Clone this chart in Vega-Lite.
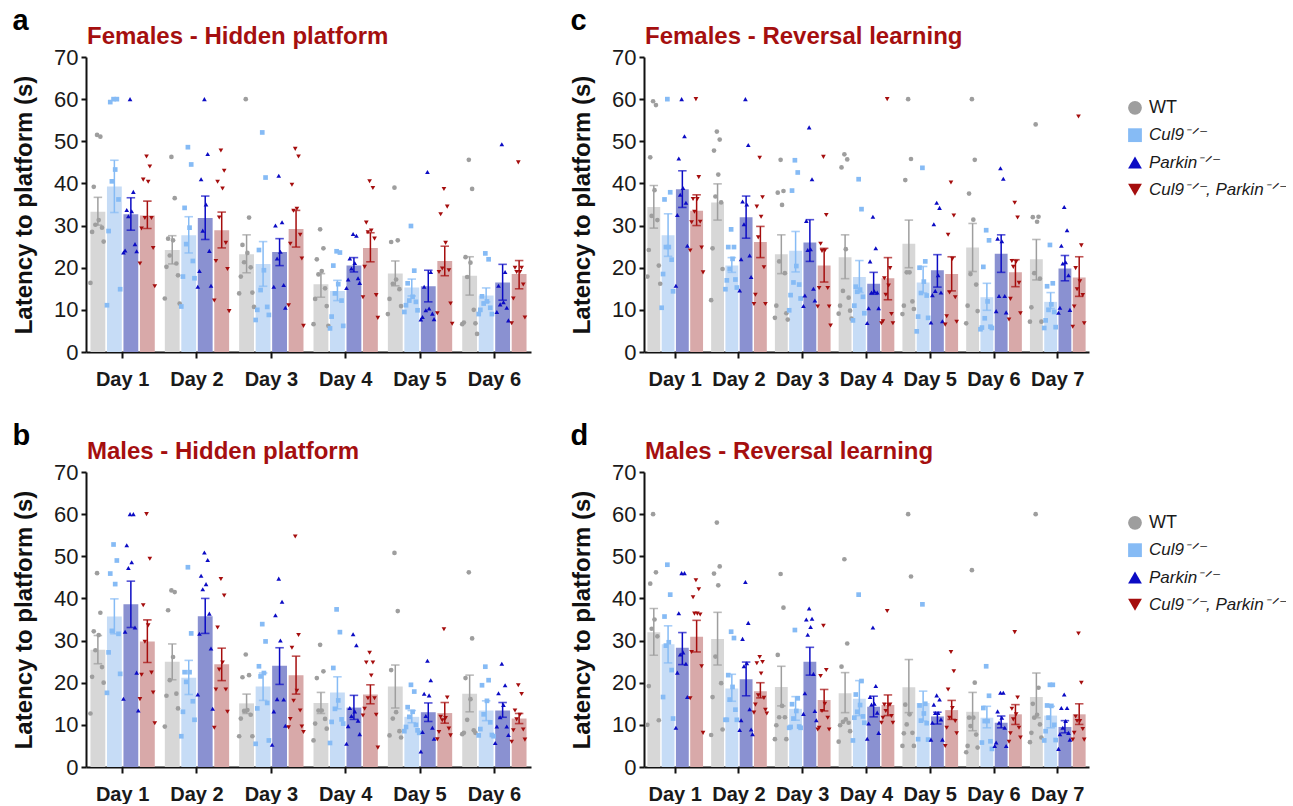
{
"$schema":"https://vega.github.io/schema/vega-lite/v6.json",
"padding":{"left":12,"top":7,"right":0,"bottom":0},
"config":{"font":"Liberation Sans","view":{"stroke":null},
"axis":{"domainColor":"#111111","domainWidth":2,"tickColor":"#111111","tickWidth":2,"grid":false,"labelColor":"#1a1a1a","titleColor":"#111111"},
"axisY":{"titleFontSize":24,"titleFontWeight":"bold","titlePadding":17,"labelFontSize":22,"tickSize":5,"labelPadding":3,"tickCount":8},
"axisX":{"labelAngle":0,"labelFontSize":20,"labelFontWeight":"bold","tickSize":6,"labelPadding":11}},
"datasets":{
"lg":[{"g":"W","t":"WT"},{"g":"C","t":"Cul9⁻ᐟ⁻"},{"g":"P","t":"Parkin⁻ᐟ⁻"},{"g":"D","t":"Cul9⁻ᐟ⁻, Parkin⁻ᐟ⁻"}],
"ba":[{"d":1,"g":"W","y":33.3,"lo":30.1,"hi":36.7},{"d":1,"g":"C","y":39.3,"lo":33.1,"hi":45.5},{"d":1,"g":"P","y":32.7,"lo":28.9,"hi":36.6},{"d":1,"g":"D","y":32.4,"lo":29.3,"hi":35.8},
{"d":2,"g":"W","y":24.2,"lo":20.9,"hi":27.6},{"d":2,"g":"C","y":27.7,"lo":23.5,"hi":32.1},{"d":2,"g":"P","y":31.8,"lo":26.7,"hi":37.0},{"d":2,"g":"D","y":28.9,"lo":24.7,"hi":33.2},
{"d":3,"g":"W","y":23.2,"lo":18.8,"hi":27.8},{"d":3,"g":"C","y":20.9,"lo":15.6,"hi":26.2},{"d":3,"g":"P","y":23.7,"lo":20.5,"hi":26.9},{"d":3,"g":"D","y":29.2,"lo":24.9,"hi":33.6},
{"d":4,"g":"W","y":16.1,"lo":13.0,"hi":18.6},{"d":4,"g":"C","y":14.5,"lo":12.2,"hi":17.0},{"d":4,"g":"P","y":20.5,"lo":19.0,"hi":22.4},{"d":4,"g":"D","y":24.7,"lo":21.4,"hi":28.3},
{"d":5,"g":"W","y":18.6,"lo":15.7,"hi":21.6},{"d":5,"g":"C","y":15.3,"lo":13.3,"hi":17.3},{"d":5,"g":"P","y":15.6,"lo":11.9,"hi":19.4},{"d":5,"g":"D","y":21.6,"lo":18.1,"hi":25.1},
{"d":6,"g":"W","y":18.1,"lo":13.5,"hi":22.6},{"d":6,"g":"C","y":13.4,"lo":11.9,"hi":15.2},{"d":6,"g":"P","y":16.5,"lo":12.3,"hi":20.8},{"d":6,"g":"D","y":18.5,"lo":15.0,"hi":21.7}],
"bb":[{"d":1,"g":"W","y":27.8,"lo":24.5,"hi":31.2},{"d":1,"g":"C","y":35.7,"lo":31.6,"hi":39.9},{"d":1,"g":"P","y":38.6,"lo":33.1,"hi":44.1},{"d":1,"g":"D","y":29.8,"lo":24.8,"hi":34.9},
{"d":2,"g":"W","y":25.0,"lo":20.7,"hi":29.2},{"d":2,"g":"C","y":21.2,"lo":17.2,"hi":25.3},{"d":2,"g":"P","y":35.8,"lo":31.7,"hi":40.0},{"d":2,"g":"D","y":24.4,"lo":20.5,"hi":28.2},
{"d":3,"g":"W","y":15.1,"lo":12.7,"hi":17.3},{"d":3,"g":"C","y":19.1,"lo":15.8,"hi":22.3},{"d":3,"g":"P","y":24.0,"lo":19.6,"hi":28.3},{"d":3,"g":"D","y":21.8,"lo":17.3,"hi":26.3},
{"d":4,"g":"W","y":15.2,"lo":12.7,"hi":17.7},{"d":4,"g":"C","y":17.7,"lo":13.8,"hi":21.4},{"d":4,"g":"P","y":14.1,"lo":11.3,"hi":17.0},{"d":4,"g":"D","y":17.2,"lo":15.0,"hi":19.5},
{"d":5,"g":"W","y":19.1,"lo":14.0,"hi":24.2},{"d":5,"g":"C","y":11.9,"lo":10.5,"hi":13.4},{"d":5,"g":"P","y":13.0,"lo":10.8,"hi":15.2},{"d":5,"g":"D","y":12.8,"lo":10.4,"hi":15.3},
{"d":6,"g":"W","y":17.4,"lo":13.1,"hi":21.8},{"d":6,"g":"C","y":13.4,"lo":11.0,"hi":15.7},{"d":6,"g":"P","y":13.4,"lo":11.8,"hi":15.3},{"d":6,"g":"D","y":11.5,"lo":10.3,"hi":12.7}],
"bc":[{"d":1,"g":"W","y":34.4,"lo":29.4,"hi":39.5},{"d":1,"g":"C","y":27.7,"lo":22.7,"hi":32.8},{"d":1,"g":"P","y":38.6,"lo":34.3,"hi":43.0},{"d":1,"g":"D","y":33.5,"lo":30.0,"hi":37.3},
{"d":2,"g":"W","y":35.5,"lo":31.3,"hi":39.9},{"d":2,"g":"C","y":20.5,"lo":18.9,"hi":22.4},{"d":2,"g":"P","y":32.0,"lo":27.0,"hi":37.0},{"d":2,"g":"D","y":26.1,"lo":22.4,"hi":29.8},
{"d":3,"g":"W","y":23.2,"lo":18.6,"hi":27.8},{"d":3,"g":"C","y":24.0,"lo":19.0,"hi":28.6},{"d":3,"g":"P","y":26.0,"lo":21.5,"hi":31.4},{"d":3,"g":"D","y":20.5,"lo":16.6,"hi":24.6},
{"d":4,"g":"W","y":22.5,"lo":17.4,"hi":27.8},{"d":4,"g":"C","y":17.8,"lo":14.1,"hi":21.7},{"d":4,"g":"P","y":16.2,"lo":13.7,"hi":18.9},{"d":4,"g":"D","y":17.5,"lo":12.4,"hi":22.4},
{"d":5,"g":"W","y":25.7,"lo":20.0,"hi":31.3},{"d":5,"g":"C","y":16.5,"lo":14.0,"hi":20.3},{"d":5,"g":"P","y":19.4,"lo":15.4,"hi":23.1},{"d":5,"g":"D","y":18.5,"lo":14.5,"hi":22.6},
{"d":6,"g":"W","y":24.8,"lo":19.1,"hi":30.5},{"d":6,"g":"C","y":13.0,"lo":9.9,"hi":16.3},{"d":6,"g":"P","y":23.3,"lo":18.9,"hi":27.8},{"d":6,"g":"D","y":18.9,"lo":15.5,"hi":21.9},
{"d":7,"g":"W","y":22.0,"lo":17.1,"hi":26.7},{"d":7,"g":"C","y":11.9,"lo":10.3,"hi":14.1},{"d":7,"g":"P","y":19.8,"lo":16.9,"hi":22.9},{"d":7,"g":"D","y":17.7,"lo":13.2,"hi":22.6}],
"bd":[{"d":1,"g":"W","y":32.0,"lo":26.5,"hi":37.6},{"d":1,"g":"C","y":29.1,"lo":24.7,"hi":33.5},{"d":1,"g":"P","y":28.3,"lo":24.3,"hi":31.9},{"d":1,"g":"D","y":30.9,"lo":27.3,"hi":34.8},
{"d":2,"g":"W","y":30.4,"lo":24.2,"hi":36.7},{"d":2,"g":"C","y":18.6,"lo":15.6,"hi":22.0},{"d":2,"g":"P","y":20.8,"lo":16.9,"hi":24.9},{"d":2,"g":"D","y":18.0,"lo":16.4,"hi":20.0},
{"d":3,"g":"W","y":19.0,"lo":14.5,"hi":23.9},{"d":3,"g":"C","y":13.8,"lo":11.1,"hi":16.7},{"d":3,"g":"P","y":25.0,"lo":21.8,"hi":28.4},{"d":3,"g":"D","y":15.9,"lo":13.3,"hi":18.4},
{"d":4,"g":"W","y":17.5,"lo":12.9,"hi":22.4},{"d":4,"g":"C","y":16.2,"lo":12.2,"hi":20.5},{"d":4,"g":"P","y":14.3,"lo":11.9,"hi":16.8},{"d":4,"g":"D","y":14.7,"lo":12.2,"hi":17.1},
{"d":5,"g":"W","y":18.9,"lo":12.9,"hi":25.5},{"d":5,"g":"C","y":15.2,"lo":10.9,"hi":18.0},{"d":5,"g":"P","y":12.0,"lo":10.2,"hi":13.0},{"d":5,"g":"D","y":13.5,"lo":11.3,"hi":15.8},
{"d":6,"g":"W","y":13.1,"lo":8.6,"hi":17.7},{"d":6,"g":"C","y":11.7,"lo":9.3,"hi":14.4},{"d":6,"g":"P","y":10.5,"lo":9.3,"hi":12.1},{"d":6,"g":"D","y":12.5,"lo":10.1,"hi":14.8},
{"d":7,"g":"W","y":16.6,"lo":11.7,"hi":22.3},{"d":7,"g":"C","y":12.2,"lo":9.3,"hi":14.4},{"d":7,"g":"P","y":9.5,"lo":8.1,"hi":11.0},{"d":7,"g":"D","y":12.5,"lo":10.1,"hi":15.0}],
"pa":[
{"d":1,"g":"W","m":"W5","v":51.5},{"d":1,"g":"W","m":"W7","v":51.1},{"d":1,"g":"W","m":"W3","v":39.2},{"d":1,"g":"W","m":"W6","v":31.3},{"d":1,"g":"W","m":"W4","v":30.2},{"d":1,"g":"W","m":"W8","v":29.5},{"d":1,"g":"W","m":"W2","v":28.5},{"d":1,"g":"W","m":"W9","v":26.2},{"d":1,"g":"W","m":"W1","v":16.4},
{"d":1,"g":"C","m":"C5","v":60},{"d":1,"g":"C","m":"C7","v":60},{"d":1,"g":"C","m":"C3","v":59.3},{"d":1,"g":"C","m":"C6","v":43.3},{"d":1,"g":"C","m":"C4","v":40.5},{"d":1,"g":"C","m":"C8","v":36.2},{"d":1,"g":"C","m":"C2","v":28.7},{"d":1,"g":"C","m":"C9","v":14.9},{"d":1,"g":"C","m":"C1","v":11.1},
{"d":1,"g":"P","m":"P5","v":60},{"d":1,"g":"P","m":"P7","v":38},{"d":1,"g":"P","m":"P3","v":33.7},{"d":1,"g":"P","m":"P6","v":33.4},{"d":1,"g":"P","m":"P4","v":32.2},{"d":1,"g":"P","m":"P8","v":25.6},{"d":1,"g":"P","m":"P2","v":24.1},{"d":1,"g":"P","m":"P9","v":23.9},{"d":1,"g":"P","m":"P1","v":23.6},
{"d":1,"g":"D","m":"D5","v":46.4},{"d":1,"g":"D","m":"D7","v":44},{"d":1,"g":"D","m":"D3","v":40.9},{"d":1,"g":"D","m":"D6","v":40.4},{"d":1,"g":"D","m":"D4","v":31.8},{"d":1,"g":"D","m":"D8","v":31.8},{"d":1,"g":"D","m":"D2","v":29.3},{"d":1,"g":"D","m":"D9","v":24.7},{"d":1,"g":"D","m":"D1","v":21},{"d":1,"g":"D","m":"D10","v":15.6},
{"d":2,"g":"W","m":"W5","v":46.3},{"d":2,"g":"W","m":"W7","v":36.5},{"d":2,"g":"W","m":"W3","v":26.9},{"d":2,"g":"W","m":"W6","v":26.5},{"d":2,"g":"W","m":"W4","v":22.9},{"d":2,"g":"W","m":"W8","v":21},{"d":2,"g":"W","m":"W2","v":20.2},{"d":2,"g":"W","m":"W9","v":18.2},{"d":2,"g":"W","m":"W1","v":12.7},{"d":2,"g":"W","m":"W10","v":11.5},
{"d":2,"g":"C","m":"C5","v":48.6},{"d":2,"g":"C","m":"C7","v":44.5},{"d":2,"g":"C","m":"C3","v":34.2},{"d":2,"g":"C","m":"C6","v":29.5},{"d":2,"g":"C","m":"C4","v":25.6},{"d":2,"g":"C","m":"C8","v":21.6},{"d":2,"g":"C","m":"C2","v":17.9},{"d":2,"g":"C","m":"C9","v":17.5},{"d":2,"g":"C","m":"C1","v":10.8},
{"d":2,"g":"P","m":"P5","v":60},{"d":2,"g":"P","m":"P7","v":47},{"d":2,"g":"P","m":"P3","v":41},{"d":2,"g":"P","m":"P6","v":35},{"d":2,"g":"P","m":"P4","v":28.8},{"d":2,"g":"P","m":"P8","v":24},{"d":2,"g":"P","m":"P2","v":19.2},{"d":2,"g":"P","m":"P9","v":15.7},{"d":2,"g":"P","m":"P1","v":15.5},
{"d":2,"g":"D","m":"D5","v":47.8},{"d":2,"g":"D","m":"D7","v":43},{"d":2,"g":"D","m":"D3","v":40.4},{"d":2,"g":"D","m":"D6","v":38.8},{"d":2,"g":"D","m":"D4","v":31.9},{"d":2,"g":"D","m":"D8","v":25.9},{"d":2,"g":"D","m":"D2","v":21.6},{"d":2,"g":"D","m":"D9","v":19.7},{"d":2,"g":"D","m":"D1","v":12.2},{"d":2,"g":"D","m":"D10","v":9.7},
{"d":3,"g":"W","m":"W5","v":60},{"d":3,"g":"W","m":"W7","v":31.9},{"d":3,"g":"W","m":"W3","v":25.4},{"d":3,"g":"W","m":"W6","v":23.5},{"d":3,"g":"W","m":"W4","v":21.3},{"d":3,"g":"W","m":"W8","v":20.1},{"d":3,"g":"W","m":"W2","v":17.9},{"d":3,"g":"W","m":"W9","v":14.1},{"d":3,"g":"W","m":"W1","v":13.9},{"d":3,"g":"W","m":"W10","v":10.7},
{"d":3,"g":"C","m":"C5","v":52.1},{"d":3,"g":"C","m":"C7","v":41.4},{"d":3,"g":"C","m":"C3","v":24.2},{"d":3,"g":"C","m":"C6","v":19.4},{"d":3,"g":"C","m":"C4","v":14.7},{"d":3,"g":"C","m":"C8","v":10.7},{"d":3,"g":"C","m":"C2","v":10},{"d":3,"g":"C","m":"C9","v":8.8},{"d":3,"g":"C","m":"C1","v":7.6},
{"d":3,"g":"P","m":"P5","v":41.8},{"d":3,"g":"P","m":"P7","v":30.8},{"d":3,"g":"P","m":"P3","v":30},{"d":3,"g":"P","m":"P6","v":23.8},{"d":3,"g":"P","m":"P4","v":22.2},{"d":3,"g":"P","m":"P8","v":15.9},{"d":3,"g":"P","m":"P2","v":15.5},{"d":3,"g":"P","m":"P9","v":10.5},
{"d":3,"g":"D","m":"D5","v":48.2},{"d":3,"g":"D","m":"D7","v":46.4},{"d":3,"g":"D","m":"D3","v":39.7},{"d":3,"g":"D","m":"D6","v":34},{"d":3,"g":"D","m":"D4","v":33.5},{"d":3,"g":"D","m":"D8","v":27.8},{"d":3,"g":"D","m":"D2","v":25.7},{"d":3,"g":"D","m":"D9","v":22.2},{"d":3,"g":"D","m":"D1","v":11.1},{"d":3,"g":"D","m":"D10","v":6.2},
{"d":4,"g":"W","m":"W5","v":29.1},{"d":4,"g":"W","m":"W7","v":24.6},{"d":4,"g":"W","m":"W3","v":22},{"d":4,"g":"W","m":"W6","v":19.2},{"d":4,"g":"W","m":"W4","v":18.4},{"d":4,"g":"W","m":"W8","v":15.1},{"d":4,"g":"W","m":"W2","v":12.6},{"d":4,"g":"W","m":"W9","v":10.9},{"d":4,"g":"W","m":"W1","v":6.6},{"d":4,"g":"W","m":"W10","v":6.2},
{"d":4,"g":"C","m":"C5","v":23.9},{"d":4,"g":"C","m":"C7","v":23.6},{"d":4,"g":"C","m":"C3","v":20.5},{"d":4,"g":"C","m":"C6","v":16.1},{"d":4,"g":"C","m":"C4","v":13.9},{"d":4,"g":"C","m":"C8","v":12.2},{"d":4,"g":"C","m":"C2","v":8.4},{"d":4,"g":"C","m":"C9","v":6.2},{"d":4,"g":"C","m":"C1","v":5.6},
{"d":4,"g":"P","m":"P5","v":28},{"d":4,"g":"P","m":"P7","v":27.6},{"d":4,"g":"P","m":"P3","v":22.2},{"d":4,"g":"P","m":"P6","v":21.1},{"d":4,"g":"P","m":"P4","v":19.8},{"d":4,"g":"P","m":"P8","v":17.5},{"d":4,"g":"P","m":"P2","v":17.2},{"d":4,"g":"P","m":"P9","v":16.4},{"d":4,"g":"P","m":"P1","v":15.2},
{"d":4,"g":"D","m":"D5","v":40.5},{"d":4,"g":"D","m":"D7","v":38.9},{"d":4,"g":"D","m":"D3","v":30.7},{"d":4,"g":"D","m":"D6","v":28.8},{"d":4,"g":"D","m":"D4","v":28.4},{"d":4,"g":"D","m":"D8","v":26.9},{"d":4,"g":"D","m":"D2","v":20.2},{"d":4,"g":"D","m":"D9","v":13.5},{"d":4,"g":"D","m":"D1","v":13},{"d":4,"g":"D","m":"D10","v":8.1},
{"d":5,"g":"W","m":"W5","v":39},{"d":5,"g":"W","m":"W7","v":26.5},{"d":5,"g":"W","m":"W3","v":26.1},{"d":5,"g":"W","m":"W6","v":17.2},{"d":5,"g":"W","m":"W4","v":16.2},{"d":5,"g":"W","m":"W8","v":14.9},{"d":5,"g":"W","m":"W2","v":12.6},{"d":5,"g":"W","m":"W9","v":10.9},{"d":5,"g":"W","m":"W1","v":9},
{"d":5,"g":"C","m":"C5","v":29.9},{"d":5,"g":"C","m":"C7","v":19.3},{"d":5,"g":"C","m":"C3","v":16.3},{"d":5,"g":"C","m":"C6","v":13.1},{"d":5,"g":"C","m":"C4","v":12.2},{"d":5,"g":"C","m":"C8","v":11.9},{"d":5,"g":"C","m":"C2","v":11.1},{"d":5,"g":"C","m":"C9","v":9.9},{"d":5,"g":"C","m":"C1","v":9.5},
{"d":5,"g":"P","m":"P5","v":42.7},{"d":5,"g":"P","m":"P7","v":19},{"d":5,"g":"P","m":"P3","v":15.5},{"d":5,"g":"P","m":"P6","v":10.3},{"d":5,"g":"P","m":"P4","v":9.9},{"d":5,"g":"P","m":"P8","v":9.1},{"d":5,"g":"P","m":"P2","v":8.3},{"d":5,"g":"P","m":"P9","v":7.8},{"d":5,"g":"P","m":"P1","v":7.7},
{"d":5,"g":"D","m":"D5","v":38.7},{"d":5,"g":"D","m":"D7","v":34.5},{"d":5,"g":"D","m":"D3","v":32.7},{"d":5,"g":"D","m":"D6","v":25.9},{"d":5,"g":"D","m":"D4","v":19.8},{"d":5,"g":"D","m":"D8","v":19.4},{"d":5,"g":"D","m":"D2","v":19},{"d":5,"g":"D","m":"D9","v":11.5},{"d":5,"g":"D","m":"D1","v":9.2},{"d":5,"g":"D","m":"D10","v":6.7},
{"d":6,"g":"W","m":"W5","v":45.6},{"d":6,"g":"W","m":"W7","v":38.7},{"d":6,"g":"W","m":"W3","v":22.5},{"d":6,"g":"W","m":"W6","v":21.2},{"d":6,"g":"W","m":"W4","v":17.8},{"d":6,"g":"W","m":"W8","v":10},{"d":6,"g":"W","m":"W2","v":7},{"d":6,"g":"W","m":"W9","v":6.8},{"d":6,"g":"W","m":"W1","v":6.6},{"d":6,"g":"W","m":"W10","v":4.3},
{"d":6,"g":"C","m":"C5","v":23.4},{"d":6,"g":"C","m":"C7","v":22},{"d":6,"g":"C","m":"C3","v":13.2},{"d":6,"g":"C","m":"C6","v":12},{"d":6,"g":"C","m":"C4","v":11.5},{"d":6,"g":"C","m":"C8","v":10.5},{"d":6,"g":"C","m":"C2","v":10},{"d":6,"g":"C","m":"C9","v":9},{"d":6,"g":"C","m":"C1","v":9},
{"d":6,"g":"P","m":"P5","v":49.3},{"d":6,"g":"P","m":"P7","v":19},{"d":6,"g":"P","m":"P3","v":15.7},{"d":6,"g":"P","m":"P6","v":11.8},{"d":6,"g":"P","m":"P4","v":11.3},{"d":6,"g":"P","m":"P8","v":10.5},{"d":6,"g":"P","m":"P2","v":9.5},{"d":6,"g":"P","m":"P9","v":7.5},
{"d":6,"g":"D","m":"D5","v":45},{"d":6,"g":"D","m":"D7","v":20},{"d":6,"g":"D","m":"D3","v":20},{"d":6,"g":"D","m":"D6","v":19},{"d":6,"g":"D","m":"D4","v":19},{"d":6,"g":"D","m":"D8","v":16},{"d":6,"g":"D","m":"D2","v":12.7},{"d":6,"g":"D","m":"D9","v":8.2},{"d":6,"g":"D","m":"D1","v":6.8}],
"pb":[
{"d":1,"g":"W","m":"W5","v":46},{"d":1,"g":"W","m":"W7","v":36.6},{"d":1,"g":"W","m":"W3","v":32.2},{"d":1,"g":"W","m":"W6","v":31.3},{"d":1,"g":"W","m":"W4","v":27.7},{"d":1,"g":"W","m":"W8","v":23.7},{"d":1,"g":"W","m":"W2","v":21.4},{"d":1,"g":"W","m":"W9","v":20},{"d":1,"g":"W","m":"W1","v":12.7},
{"d":1,"g":"C","m":"C5","v":52.8},{"d":1,"g":"C","m":"C7","v":49},{"d":1,"g":"C","m":"C3","v":45.9},{"d":1,"g":"C","m":"C6","v":43.4},{"d":1,"g":"C","m":"C4","v":32.3},{"d":1,"g":"C","m":"C8","v":31.6},{"d":1,"g":"C","m":"C2","v":27.2},{"d":1,"g":"C","m":"C9","v":22.1},{"d":1,"g":"C","m":"C1","v":17.6},
{"d":1,"g":"P","m":"P5","v":60},{"d":1,"g":"P","m":"P7","v":60},{"d":1,"g":"P","m":"P3","v":52.6},{"d":1,"g":"P","m":"P6","v":48.6},{"d":1,"g":"P","m":"P4","v":47.2},{"d":1,"g":"P","m":"P8","v":33.1},{"d":1,"g":"P","m":"P2","v":32.1},{"d":1,"g":"P","m":"P9","v":22.4},{"d":1,"g":"P","m":"P1","v":16.2},{"d":1,"g":"P","m":"P10","v":13.4},
{"d":1,"g":"D","m":"D5","v":60},{"d":1,"g":"D","m":"D7","v":49.4},{"d":1,"g":"D","m":"D3","v":38.4},{"d":1,"g":"D","m":"D6","v":33.6},{"d":1,"g":"D","m":"D4","v":29.7},{"d":1,"g":"D","m":"D8","v":22.4},{"d":1,"g":"D","m":"D2","v":21.9},{"d":1,"g":"D","m":"D9","v":17.7},{"d":1,"g":"D","m":"D1","v":16.1},{"d":1,"g":"D","m":"D10","v":10.4},
{"d":2,"g":"W","m":"W5","v":41.9},{"d":2,"g":"W","m":"W7","v":41.5},{"d":2,"g":"W","m":"W3","v":37.2},{"d":2,"g":"W","m":"W6","v":26.1},{"d":2,"g":"W","m":"W4","v":20.6},{"d":2,"g":"W","m":"W8","v":17.4},{"d":2,"g":"W","m":"W2","v":16.9},{"d":2,"g":"W","m":"W9","v":13.9},{"d":2,"g":"W","m":"W1","v":9.6},
{"d":2,"g":"C","m":"C5","v":47.4},{"d":2,"g":"C","m":"C7","v":31.7},{"d":2,"g":"C","m":"C3","v":22.5},{"d":2,"g":"C","m":"C6","v":22.5},{"d":2,"g":"C","m":"C4","v":20.2},{"d":2,"g":"C","m":"C8","v":15.6},{"d":2,"g":"C","m":"C2","v":13.1},{"d":2,"g":"C","m":"C9","v":11.2},{"d":2,"g":"C","m":"C1","v":7.3},
{"d":2,"g":"P","m":"P5","v":50.9},{"d":2,"g":"P","m":"P7","v":49.1},{"d":2,"g":"P","m":"P3","v":45.4},{"d":2,"g":"P","m":"P6","v":43.4},{"d":2,"g":"P","m":"P4","v":42.2},{"d":2,"g":"P","m":"P8","v":36.4},{"d":2,"g":"P","m":"P2","v":31.6},{"d":2,"g":"P","m":"P9","v":28.1},{"d":2,"g":"P","m":"P1","v":17.2},{"d":2,"g":"P","m":"P10","v":13.8},
{"d":2,"g":"D","m":"D5","v":44.6},{"d":2,"g":"D","m":"D7","v":40.7},{"d":2,"g":"D","m":"D3","v":33.1},{"d":2,"g":"D","m":"D6","v":24.8},{"d":2,"g":"D","m":"D4","v":23.1},{"d":2,"g":"D","m":"D8","v":18.4},{"d":2,"g":"D","m":"D2","v":18.4},{"d":2,"g":"D","m":"D9","v":13.1},{"d":2,"g":"D","m":"D1","v":9.3},
{"d":3,"g":"W","m":"W5","v":26.7},{"d":3,"g":"W","m":"W7","v":21.8},{"d":3,"g":"W","m":"W3","v":21.3},{"d":3,"g":"W","m":"W6","v":13.5},{"d":3,"g":"W","m":"W4","v":13.3},{"d":3,"g":"W","m":"W8","v":12.4},{"d":3,"g":"W","m":"W2","v":11.5},{"d":3,"g":"W","m":"W9","v":7.3},{"d":3,"g":"W","m":"W1","v":7.3},
{"d":3,"g":"C","m":"C5","v":33.9},{"d":3,"g":"C","m":"C7","v":29.8},{"d":3,"g":"C","m":"C3","v":23.9},{"d":3,"g":"C","m":"C6","v":22.3},{"d":3,"g":"C","m":"C4","v":21.5},{"d":3,"g":"C","m":"C8","v":15.2},{"d":3,"g":"C","m":"C2","v":13.9},{"d":3,"g":"C","m":"C9","v":6.3},{"d":3,"g":"C","m":"C1","v":5.5},
{"d":3,"g":"P","m":"P5","v":44.7},{"d":3,"g":"P","m":"P7","v":39.2},{"d":3,"g":"P","m":"P3","v":36},{"d":3,"g":"P","m":"P6","v":30},{"d":3,"g":"P","m":"P4","v":16.1},{"d":3,"g":"P","m":"P8","v":16},{"d":3,"g":"P","m":"P2","v":13.2},{"d":3,"g":"P","m":"P9","v":9.8},{"d":3,"g":"P","m":"P1","v":5.3},
{"d":3,"g":"D","m":"D5","v":54.7},{"d":3,"g":"D","m":"D7","v":31.3},{"d":3,"g":"D","m":"D3","v":28.3},{"d":3,"g":"D","m":"D6","v":18.1},{"d":3,"g":"D","m":"D4","v":15.7},{"d":3,"g":"D","m":"D8","v":13.4},{"d":3,"g":"D","m":"D2","v":11.4},{"d":3,"g":"D","m":"D9","v":9.6},{"d":3,"g":"D","m":"D1","v":9.4},{"d":3,"g":"D","m":"D10","v":8.3},
{"d":4,"g":"W","m":"W5","v":29},{"d":4,"g":"W","m":"W7","v":22.7},{"d":4,"g":"W","m":"W3","v":21.1},{"d":4,"g":"W","m":"W6","v":13.4},{"d":4,"g":"W","m":"W4","v":13.4},{"d":4,"g":"W","m":"W8","v":11.4},{"d":4,"g":"W","m":"W2","v":10.3},{"d":4,"g":"W","m":"W9","v":9.1},{"d":4,"g":"W","m":"W1","v":6.3},
{"d":4,"g":"C","m":"C5","v":37.4},{"d":4,"g":"C","m":"C7","v":32},{"d":4,"g":"C","m":"C3","v":23.5},{"d":4,"g":"C","m":"C6","v":15.8},{"d":4,"g":"C","m":"C4","v":13.8},{"d":4,"g":"C","m":"C8","v":11.3},{"d":4,"g":"C","m":"C2","v":10.7},{"d":4,"g":"C","m":"C9","v":10.3},{"d":4,"g":"C","m":"C1","v":5.7},
{"d":4,"g":"P","m":"P5","v":31.5},{"d":4,"g":"P","m":"P7","v":28.9},{"d":4,"g":"P","m":"P3","v":14},{"d":4,"g":"P","m":"P6","v":13.2},{"d":4,"g":"P","m":"P4","v":12.1},{"d":4,"g":"P","m":"P8","v":11},{"d":4,"g":"P","m":"P2","v":9.7},{"d":4,"g":"P","m":"P9","v":7.8},{"d":4,"g":"P","m":"P1","v":5.5},
{"d":4,"g":"D","m":"D5","v":27.1},{"d":4,"g":"D","m":"D7","v":24.8},{"d":4,"g":"D","m":"D3","v":24.8},{"d":4,"g":"D","m":"D6","v":21.7},{"d":4,"g":"D","m":"D4","v":16.3},{"d":4,"g":"D","m":"D8","v":16.3},{"d":4,"g":"D","m":"D2","v":13.8},{"d":4,"g":"D","m":"D9","v":12.4},{"d":4,"g":"D","m":"D1","v":12.2},{"d":4,"g":"D","m":"D10","v":4.6},
{"d":5,"g":"W","m":"W5","v":50.8},{"d":5,"g":"W","m":"W7","v":37},{"d":5,"g":"W","m":"W3","v":23},{"d":5,"g":"W","m":"W6","v":13},{"d":5,"g":"W","m":"W4","v":11.5},{"d":5,"g":"W","m":"W8","v":8.5},{"d":5,"g":"W","m":"W2","v":7.5},{"d":5,"g":"W","m":"W9","v":7},
{"d":5,"g":"C","m":"C5","v":19.5},{"d":5,"g":"C","m":"C7","v":17.9},{"d":5,"g":"C","m":"C3","v":14.2},{"d":5,"g":"C","m":"C6","v":13.1},{"d":5,"g":"C","m":"C4","v":11.9},{"d":5,"g":"C","m":"C8","v":10},{"d":5,"g":"C","m":"C2","v":9.5},{"d":5,"g":"C","m":"C9","v":8.7},{"d":5,"g":"C","m":"C1","v":8.5},{"d":5,"g":"C","m":"C10","v":8.1},
{"d":5,"g":"P","m":"P5","v":25.2},{"d":5,"g":"P","m":"P7","v":20.6},{"d":5,"g":"P","m":"P3","v":17.4},{"d":5,"g":"P","m":"P6","v":17},{"d":5,"g":"P","m":"P4","v":12.1},{"d":5,"g":"P","m":"P8","v":9.3},{"d":5,"g":"P","m":"P2","v":8.3},{"d":5,"g":"P","m":"P9","v":6.7},{"d":5,"g":"P","m":"P1","v":3.7},
{"d":5,"g":"D","m":"D5","v":32.7},{"d":5,"g":"D","m":"D7","v":16.5},{"d":5,"g":"D","m":"D3","v":11.9},{"d":5,"g":"D","m":"D6","v":11.6},{"d":5,"g":"D","m":"D4","v":11.1},{"d":5,"g":"D","m":"D8","v":9.1},{"d":5,"g":"D","m":"D2","v":8.3},{"d":5,"g":"D","m":"D9","v":7.5},{"d":5,"g":"D","m":"D1","v":6.6},
{"d":6,"g":"W","m":"W5","v":46.2},{"d":6,"g":"W","m":"W7","v":30.5},{"d":6,"g":"W","m":"W3","v":21.1},{"d":6,"g":"W","m":"W6","v":16.1},{"d":6,"g":"W","m":"W4","v":11.2},{"d":6,"g":"W","m":"W8","v":8.7},{"d":6,"g":"W","m":"W2","v":8.1},{"d":6,"g":"W","m":"W9","v":8.1},{"d":6,"g":"W","m":"W1","v":7.8},
{"d":6,"g":"C","m":"C5","v":23.8},{"d":6,"g":"C","m":"C7","v":20.6},{"d":6,"g":"C","m":"C3","v":19.4},{"d":6,"g":"C","m":"C6","v":15.7},{"d":6,"g":"C","m":"C4","v":12.5},{"d":6,"g":"C","m":"C8","v":10.6},{"d":6,"g":"C","m":"C2","v":9},{"d":6,"g":"C","m":"C9","v":7.6},{"d":6,"g":"C","m":"C1","v":7.5},{"d":6,"g":"C","m":"C10","v":7.3},
{"d":6,"g":"P","m":"P5","v":24.5},{"d":6,"g":"P","m":"P7","v":19.4},{"d":6,"g":"P","m":"P3","v":17.5},{"d":6,"g":"P","m":"P6","v":14.7},{"d":6,"g":"P","m":"P4","v":11.8},{"d":6,"g":"P","m":"P8","v":9.6},{"d":6,"g":"P","m":"P2","v":9.6},{"d":6,"g":"P","m":"P9","v":7.6},{"d":6,"g":"P","m":"P1","v":5.7},
{"d":6,"g":"D","m":"D5","v":19.4},{"d":6,"g":"D","m":"D7","v":17.3},{"d":6,"g":"D","m":"D3","v":13.4},{"d":6,"g":"D","m":"D6","v":12.4},{"d":6,"g":"D","m":"D4","v":11.3},{"d":6,"g":"D","m":"D8","v":8.9},{"d":6,"g":"D","m":"D2","v":8.7},{"d":6,"g":"D","m":"D9","v":6.5},{"d":6,"g":"D","m":"D1","v":6}],
"pc":[
{"d":1,"g":"W","m":"W5","v":59.5},{"d":1,"g":"W","m":"W7","v":58.6},{"d":1,"g":"W","m":"W3","v":46.2},{"d":1,"g":"W","m":"W6","v":38.4},{"d":1,"g":"W","m":"W4","v":32.3},{"d":1,"g":"W","m":"W8","v":31.3},{"d":1,"g":"W","m":"W2","v":24.2},{"d":1,"g":"W","m":"W9","v":20.5},{"d":1,"g":"W","m":"W1","v":17.9},{"d":1,"g":"W","m":"W10","v":16.2},
{"d":1,"g":"C","m":"C5","v":60},{"d":1,"g":"C","m":"C7","v":37.9},{"d":1,"g":"C","m":"C3","v":36.2},{"d":1,"g":"C","m":"C6","v":24.9},{"d":1,"g":"C","m":"C4","v":24.9},{"d":1,"g":"C","m":"C8","v":21.9},{"d":1,"g":"C","m":"C2","v":18.5},{"d":1,"g":"C","m":"C9","v":14.4},{"d":1,"g":"C","m":"C1","v":10.5},
{"d":1,"g":"P","m":"P5","v":60},{"d":1,"g":"P","m":"P7","v":51.2},{"d":1,"g":"P","m":"P3","v":45.9},{"d":1,"g":"P","m":"P6","v":38.9},{"d":1,"g":"P","m":"P4","v":37.3},{"d":1,"g":"P","m":"P8","v":35.4},{"d":1,"g":"P","m":"P2","v":32.5},{"d":1,"g":"P","m":"P9","v":25.2},{"d":1,"g":"P","m":"P1","v":15.7},
{"d":1,"g":"D","m":"D5","v":60},{"d":1,"g":"D","m":"D7","v":41.5},{"d":1,"g":"D","m":"D3","v":36.3},{"d":1,"g":"D","m":"D6","v":36.3},{"d":1,"g":"D","m":"D4","v":33.3},{"d":1,"g":"D","m":"D8","v":30.9},{"d":1,"g":"D","m":"D2","v":30.8},{"d":1,"g":"D","m":"D9","v":24.8},{"d":1,"g":"D","m":"D1","v":24.1},{"d":1,"g":"D","m":"D10","v":18.9},
{"d":2,"g":"W","m":"W5","v":52.3},{"d":2,"g":"W","m":"W7","v":50.4},{"d":2,"g":"W","m":"W3","v":47.8},{"d":2,"g":"W","m":"W6","v":42.1},{"d":2,"g":"W","m":"W4","v":36.9},{"d":2,"g":"W","m":"W8","v":35.5},{"d":2,"g":"W","m":"W2","v":24.6},{"d":2,"g":"W","m":"W9","v":19.7},{"d":2,"g":"W","m":"W1","v":12.3},
{"d":2,"g":"C","m":"C5","v":29.1},{"d":2,"g":"C","m":"C7","v":24.9},{"d":2,"g":"C","m":"C3","v":24.9},{"d":2,"g":"C","m":"C6","v":22.1},{"d":2,"g":"C","m":"C4","v":19.7},{"d":2,"g":"C","m":"C8","v":17.2},{"d":2,"g":"C","m":"C2","v":17},{"d":2,"g":"C","m":"C9","v":15.3},{"d":2,"g":"C","m":"C1","v":14.9},
{"d":2,"g":"P","m":"P5","v":60},{"d":2,"g":"P","m":"P7","v":49.1},{"d":2,"g":"P","m":"P3","v":35.7},{"d":2,"g":"P","m":"P6","v":35},{"d":2,"g":"P","m":"P4","v":30.3},{"d":2,"g":"P","m":"P8","v":22.9},{"d":2,"g":"P","m":"P2","v":22},{"d":2,"g":"P","m":"P9","v":17.8},{"d":2,"g":"P","m":"P1","v":14.6},
{"d":2,"g":"D","m":"D5","v":46.1},{"d":2,"g":"D","m":"D7","v":36.7},{"d":2,"g":"D","m":"D3","v":34.5},{"d":2,"g":"D","m":"D6","v":32.1},{"d":2,"g":"D","m":"D4","v":27.2},{"d":2,"g":"D","m":"D8","v":20.1},{"d":2,"g":"D","m":"D2","v":13.6},{"d":2,"g":"D","m":"D9","v":11.4},{"d":2,"g":"D","m":"D1","v":11.4},
{"d":3,"g":"W","m":"W5","v":45.6},{"d":3,"g":"W","m":"W7","v":38.2},{"d":3,"g":"W","m":"W3","v":37.8},{"d":3,"g":"W","m":"W6","v":34.9},{"d":3,"g":"W","m":"W4","v":21.5},{"d":3,"g":"W","m":"W8","v":18.7},{"d":3,"g":"W","m":"W2","v":11},{"d":3,"g":"W","m":"W9","v":9.2},{"d":3,"g":"W","m":"W1","v":8.1},{"d":3,"g":"W","m":"W10","v":7.7},
{"d":3,"g":"C","m":"C5","v":45.5},{"d":3,"g":"C","m":"C7","v":42.6},{"d":3,"g":"C","m":"C3","v":38.3},{"d":3,"g":"C","m":"C6","v":20.4},{"d":3,"g":"C","m":"C4","v":16.5},{"d":3,"g":"C","m":"C8","v":16},{"d":3,"g":"C","m":"C2","v":13.5},{"d":3,"g":"C","m":"C9","v":12.7},{"d":3,"g":"C","m":"C1","v":9.9},
{"d":3,"g":"P","m":"P5","v":53.3},{"d":3,"g":"P","m":"P7","v":41},{"d":3,"g":"P","m":"P3","v":31.1},{"d":3,"g":"P","m":"P6","v":24.4},{"d":3,"g":"P","m":"P4","v":24.2},{"d":3,"g":"P","m":"P8","v":15},{"d":3,"g":"P","m":"P2","v":13.4},{"d":3,"g":"P","m":"P9","v":12.2},{"d":3,"g":"P","m":"P1","v":10.9},
{"d":3,"g":"D","m":"D5","v":46.3},{"d":3,"g":"D","m":"D7","v":32.5},{"d":3,"g":"D","m":"D3","v":25.7},{"d":3,"g":"D","m":"D6","v":24.1},{"d":3,"g":"D","m":"D4","v":24},{"d":3,"g":"D","m":"D8","v":15.2},{"d":3,"g":"D","m":"D2","v":15.2},{"d":3,"g":"D","m":"D9","v":10.8},{"d":3,"g":"D","m":"D1","v":10.8},{"d":3,"g":"D","m":"D10","v":6.3},
{"d":4,"g":"W","m":"W5","v":46.9},{"d":4,"g":"W","m":"W7","v":45.7},{"d":4,"g":"W","m":"W3","v":43.8},{"d":4,"g":"W","m":"W6","v":24.4},{"d":4,"g":"W","m":"W4","v":14.5},{"d":4,"g":"W","m":"W8","v":12.9},{"d":4,"g":"W","m":"W2","v":11},{"d":4,"g":"W","m":"W9","v":9.8},{"d":4,"g":"W","m":"W1","v":9.1},{"d":4,"g":"W","m":"W10","v":7.9},
{"d":4,"g":"C","m":"C5","v":41},{"d":4,"g":"C","m":"C7","v":33.9},{"d":4,"g":"C","m":"C3","v":15.5},{"d":4,"g":"C","m":"C6","v":14.8},{"d":4,"g":"C","m":"C4","v":14.3},{"d":4,"g":"C","m":"C8","v":13.1},{"d":4,"g":"C","m":"C2","v":11},{"d":4,"g":"C","m":"C9","v":9.2},{"d":4,"g":"C","m":"C1","v":7.5},
{"d":4,"g":"P","m":"P5","v":32.1},{"d":4,"g":"P","m":"P7","v":24.6},{"d":4,"g":"P","m":"P3","v":21.5},{"d":4,"g":"P","m":"P6","v":14.4},{"d":4,"g":"P","m":"P4","v":14.1},{"d":4,"g":"P","m":"P8","v":14.1},{"d":4,"g":"P","m":"P2","v":10.4},{"d":4,"g":"P","m":"P9","v":10.4},{"d":4,"g":"P","m":"P1","v":6.9},
{"d":4,"g":"D","m":"D5","v":60},{"d":4,"g":"D","m":"D7","v":19.9},{"d":4,"g":"D","m":"D3","v":17.5},{"d":4,"g":"D","m":"D6","v":15.8},{"d":4,"g":"D","m":"D4","v":13.6},{"d":4,"g":"D","m":"D8","v":9},{"d":4,"g":"D","m":"D2","v":7.3},{"d":4,"g":"D","m":"D9","v":6.8},{"d":4,"g":"D","m":"D1","v":6.8},
{"d":5,"g":"W","m":"W5","v":60},{"d":5,"g":"W","m":"W7","v":45.8},{"d":5,"g":"W","m":"W3","v":40.8},{"d":5,"g":"W","m":"W6","v":18.9},{"d":5,"g":"W","m":"W4","v":18.9},{"d":5,"g":"W","m":"W8","v":12},{"d":5,"g":"W","m":"W2","v":11},{"d":5,"g":"W","m":"W9","v":10.2},{"d":5,"g":"W","m":"W1","v":9},
{"d":5,"g":"C","m":"C5","v":43.7},{"d":5,"g":"C","m":"C7","v":21.5},{"d":5,"g":"C","m":"C3","v":20},{"d":5,"g":"C","m":"C6","v":16.7},{"d":5,"g":"C","m":"C4","v":14},{"d":5,"g":"C","m":"C8","v":13.4},{"d":5,"g":"C","m":"C2","v":8.4},{"d":5,"g":"C","m":"C9","v":8.1},{"d":5,"g":"C","m":"C1","v":4.9},
{"d":5,"g":"P","m":"P5","v":35.4},{"d":5,"g":"P","m":"P7","v":34.2},{"d":5,"g":"P","m":"P3","v":30.3},{"d":5,"g":"P","m":"P6","v":18.2},{"d":5,"g":"P","m":"P4","v":14.5},{"d":5,"g":"P","m":"P8","v":14.1},{"d":5,"g":"P","m":"P2","v":13.5},{"d":5,"g":"P","m":"P9","v":7.3},{"d":5,"g":"P","m":"P1","v":7},
{"d":5,"g":"D","m":"D5","v":40.2},{"d":5,"g":"D","m":"D7","v":32.4},{"d":5,"g":"D","m":"D3","v":27.8},{"d":5,"g":"D","m":"D6","v":22.1},{"d":5,"g":"D","m":"D4","v":14.1},{"d":5,"g":"D","m":"D8","v":13},{"d":5,"g":"D","m":"D2","v":8.5},{"d":5,"g":"D","m":"D9","v":7.2},{"d":5,"g":"D","m":"D1","v":6.5},
{"d":6,"g":"W","m":"W5","v":60},{"d":6,"g":"W","m":"W7","v":45.6},{"d":6,"g":"W","m":"W3","v":37.6},{"d":6,"g":"W","m":"W6","v":31.4},{"d":6,"g":"W","m":"W4","v":18.5},{"d":6,"g":"W","m":"W8","v":16},{"d":6,"g":"W","m":"W2","v":11},{"d":6,"g":"W","m":"W9","v":9.7},{"d":6,"g":"W","m":"W1","v":6.8},
{"d":6,"g":"C","m":"C5","v":28.9},{"d":6,"g":"C","m":"C7","v":26.5},{"d":6,"g":"C","m":"C3","v":20.2},{"d":6,"g":"C","m":"C6","v":12},{"d":6,"g":"C","m":"C4","v":8},{"d":6,"g":"C","m":"C8","v":6},{"d":6,"g":"C","m":"C2","v":5.8},{"d":6,"g":"C","m":"C9","v":5.7},{"d":6,"g":"C","m":"C1","v":5.4},
{"d":6,"g":"P","m":"P5","v":43.6},{"d":6,"g":"P","m":"P7","v":41.1},{"d":6,"g":"P","m":"P3","v":26.9},{"d":6,"g":"P","m":"P6","v":26.3},{"d":6,"g":"P","m":"P4","v":13.3},{"d":6,"g":"P","m":"P8","v":13.3},{"d":6,"g":"P","m":"P2","v":9.7},{"d":6,"g":"P","m":"P9","v":9.4},
{"d":6,"g":"D","m":"D5","v":35.4},{"d":6,"g":"D","m":"D7","v":31.9},{"d":6,"g":"D","m":"D3","v":21.6},{"d":6,"g":"D","m":"D6","v":21.4},{"d":6,"g":"D","m":"D4","v":20.2},{"d":6,"g":"D","m":"D8","v":16.4},{"d":6,"g":"D","m":"D2","v":12.6},{"d":6,"g":"D","m":"D9","v":9.2},{"d":6,"g":"D","m":"D1","v":7.7},
{"d":7,"g":"W","m":"W5","v":54},{"d":7,"g":"W","m":"W7","v":32.1},{"d":7,"g":"W","m":"W3","v":32},{"d":7,"g":"W","m":"W6","v":30.9},{"d":7,"g":"W","m":"W4","v":18.7},{"d":7,"g":"W","m":"W8","v":17.4},{"d":7,"g":"W","m":"W2","v":10.6},{"d":7,"g":"W","m":"W9","v":7.2},{"d":7,"g":"W","m":"W1","v":7.2},
{"d":7,"g":"C","m":"C5","v":25.4},{"d":7,"g":"C","m":"C7","v":16.3},{"d":7,"g":"C","m":"C3","v":15.6},{"d":7,"g":"C","m":"C6","v":11.3},{"d":7,"g":"C","m":"C4","v":10},{"d":7,"g":"C","m":"C8","v":9.5},{"d":7,"g":"C","m":"C2","v":7.5},{"d":7,"g":"C","m":"C9","v":5.9},{"d":7,"g":"C","m":"C1","v":5.7},
{"d":7,"g":"P","m":"P5","v":34.4},{"d":7,"g":"P","m":"P7","v":28.9},{"d":7,"g":"P","m":"P3","v":25.2},{"d":7,"g":"P","m":"P6","v":21.3},{"d":7,"g":"P","m":"P4","v":21},{"d":7,"g":"P","m":"P8","v":18.2},{"d":7,"g":"P","m":"P2","v":10.5},{"d":7,"g":"P","m":"P9","v":10},{"d":7,"g":"P","m":"P1","v":9.3},
{"d":7,"g":"D","m":"D5","v":55.9},{"d":7,"g":"D","m":"D7","v":25.3},{"d":7,"g":"D","m":"D3","v":19.9},{"d":7,"g":"D","m":"D6","v":16.8},{"d":7,"g":"D","m":"D4","v":14.9},{"d":7,"g":"D","m":"D8","v":13.5},{"d":7,"g":"D","m":"D2","v":10.8},{"d":7,"g":"D","m":"D9","v":6.8},{"d":7,"g":"D","m":"D1","v":6}],
"pd":[
{"d":1,"g":"W","m":"W5","v":60},{"d":1,"g":"W","m":"W7","v":46.2},{"d":1,"g":"W","m":"W3","v":43.5},{"d":1,"g":"W","m":"W6","v":35},{"d":1,"g":"W","m":"W4","v":32.8},{"d":1,"g":"W","m":"W8","v":31},{"d":1,"g":"W","m":"W2","v":19.2},{"d":1,"g":"W","m":"W9","v":11.1},{"d":1,"g":"W","m":"W1","v":10},
{"d":1,"g":"C","m":"C5","v":48},{"d":1,"g":"C","m":"C7","v":40.9},{"d":1,"g":"C","m":"C3","v":35.7},{"d":1,"g":"C","m":"C6","v":29.6},{"d":1,"g":"C","m":"C4","v":28.8},{"d":1,"g":"C","m":"C8","v":23},{"d":1,"g":"C","m":"C2","v":16.6},{"d":1,"g":"C","m":"C9","v":11.5},
{"d":1,"g":"P","m":"P5","v":46},{"d":1,"g":"P","m":"P7","v":46},{"d":1,"g":"P","m":"P3","v":36.5},{"d":1,"g":"P","m":"P6","v":27.2},{"d":1,"g":"P","m":"P4","v":26.7},{"d":1,"g":"P","m":"P8","v":24.5},{"d":1,"g":"P","m":"P2","v":22.4},{"d":1,"g":"P","m":"P9","v":16.6},{"d":1,"g":"P","m":"P1","v":9.3},
{"d":1,"g":"D","m":"D5","v":44.3},{"d":1,"g":"D","m":"D7","v":42.2},{"d":1,"g":"D","m":"D3","v":40.3},{"d":1,"g":"D","m":"D6","v":36.4},{"d":1,"g":"D","m":"D4","v":36.4},{"d":1,"g":"D","m":"D8","v":36.2},{"d":1,"g":"D","m":"D2","v":27.3},{"d":1,"g":"D","m":"D9","v":23.9},{"d":1,"g":"D","m":"D1","v":16.3},{"d":1,"g":"D","m":"D10","v":8.1},
{"d":2,"g":"W","m":"W5","v":58},{"d":2,"g":"W","m":"W7","v":47.6},{"d":2,"g":"W","m":"W3","v":45.9},{"d":2,"g":"W","m":"W6","v":43.1},{"d":2,"g":"W","m":"W4","v":26.2},{"d":2,"g":"W","m":"W8","v":19.9},{"d":2,"g":"W","m":"W2","v":16.6},{"d":2,"g":"W","m":"W9","v":8.9},{"d":2,"g":"W","m":"W1","v":7.6},
{"d":2,"g":"C","m":"C5","v":32.1},{"d":2,"g":"C","m":"C7","v":30.6},{"d":2,"g":"C","m":"C3","v":21.8},{"d":2,"g":"C","m":"C6","v":19},{"d":2,"g":"C","m":"C4","v":16},{"d":2,"g":"C","m":"C8","v":13.6},{"d":2,"g":"C","m":"C2","v":11.2},{"d":2,"g":"C","m":"C9","v":11.2},{"d":2,"g":"C","m":"C1","v":11.2},
{"d":2,"g":"P","m":"P5","v":43.9},{"d":2,"g":"P","m":"P7","v":34.2},{"d":2,"g":"P","m":"P3","v":30.4},{"d":2,"g":"P","m":"P6","v":24.6},{"d":2,"g":"P","m":"P4","v":23.9},{"d":2,"g":"P","m":"P8","v":13.7},{"d":2,"g":"P","m":"P2","v":11.1},{"d":2,"g":"P","m":"P9","v":8.9},{"d":2,"g":"P","m":"P1","v":8.8},{"d":2,"g":"P","m":"P10","v":7.8},
{"d":2,"g":"D","m":"D5","v":26.1},{"d":2,"g":"D","m":"D7","v":24.9},{"d":2,"g":"D","m":"D3","v":24.6},{"d":2,"g":"D","m":"D6","v":22.2},{"d":2,"g":"D","m":"D4","v":17},{"d":2,"g":"D","m":"D8","v":16.4},{"d":2,"g":"D","m":"D2","v":14.8},{"d":2,"g":"D","m":"D9","v":13.6},{"d":2,"g":"D","m":"D1","v":12.9},{"d":2,"g":"D","m":"D10","v":12.7},
{"d":3,"g":"W","m":"W5","v":45.8},{"d":3,"g":"W","m":"W7","v":37.8},{"d":3,"g":"W","m":"W3","v":26.6},{"d":3,"g":"W","m":"W6","v":14.5},{"d":3,"g":"W","m":"W4","v":11.8},{"d":3,"g":"W","m":"W8","v":11.8},{"d":3,"g":"W","m":"W2","v":9.9},{"d":3,"g":"W","m":"W9","v":6.6},{"d":3,"g":"W","m":"W1","v":6.6},
{"d":3,"g":"C","m":"C5","v":32.5},{"d":3,"g":"C","m":"C7","v":16.3},{"d":3,"g":"C","m":"C3","v":14.9},{"d":3,"g":"C","m":"C6","v":13.3},{"d":3,"g":"C","m":"C4","v":11.5},{"d":3,"g":"C","m":"C8","v":9.6},{"d":3,"g":"C","m":"C2","v":9.5},{"d":3,"g":"C","m":"C9","v":9.3},{"d":3,"g":"C","m":"C1","v":9.3},
{"d":3,"g":"P","m":"P5","v":37.6},{"d":3,"g":"P","m":"P7","v":35.2},{"d":3,"g":"P","m":"P3","v":35},{"d":3,"g":"P","m":"P6","v":33.2},{"d":3,"g":"P","m":"P4","v":31.4},{"d":3,"g":"P","m":"P8","v":22.1},{"d":3,"g":"P","m":"P2","v":17.5},{"d":3,"g":"P","m":"P9","v":13.3},{"d":3,"g":"P","m":"P1","v":12.6},{"d":3,"g":"P","m":"P10","v":11.1},
{"d":3,"g":"D","m":"D5","v":33.5},{"d":3,"g":"D","m":"D7","v":23},{"d":3,"g":"D","m":"D3","v":21.6},{"d":3,"g":"D","m":"D6","v":15},{"d":3,"g":"D","m":"D4","v":13.3},{"d":3,"g":"D","m":"D8","v":11.7},{"d":3,"g":"D","m":"D2","v":9.3},{"d":3,"g":"D","m":"D9","v":8.9},{"d":3,"g":"D","m":"D1","v":8.9},
{"d":4,"g":"W","m":"W5","v":49.3},{"d":4,"g":"W","m":"W7","v":29.3},{"d":4,"g":"W","m":"W3","v":23.8},{"d":4,"g":"W","m":"W6","v":11.3},{"d":4,"g":"W","m":"W4","v":10.7},{"d":4,"g":"W","m":"W8","v":10.5},{"d":4,"g":"W","m":"W2","v":9.9},{"d":4,"g":"W","m":"W9","v":8.5},{"d":4,"g":"W","m":"W1","v":6},
{"d":4,"g":"C","m":"C5","v":40.9},{"d":4,"g":"C","m":"C7","v":20.4},{"d":4,"g":"C","m":"C3","v":17.2},{"d":4,"g":"C","m":"C6","v":14.7},{"d":4,"g":"C","m":"C4","v":13.1},{"d":4,"g":"C","m":"C8","v":12},{"d":4,"g":"C","m":"C2","v":11.7},{"d":4,"g":"C","m":"C9","v":10.5},{"d":4,"g":"C","m":"C1","v":6.3},
{"d":4,"g":"P","m":"P5","v":33.1},{"d":4,"g":"P","m":"P7","v":19.2},{"d":4,"g":"P","m":"P3","v":16.6},{"d":4,"g":"P","m":"P6","v":15},{"d":4,"g":"P","m":"P4","v":14.8},{"d":4,"g":"P","m":"P8","v":12.9},{"d":4,"g":"P","m":"P2","v":10.3},{"d":4,"g":"P","m":"P9","v":8.1},{"d":4,"g":"P","m":"P1","v":6.7},
{"d":4,"g":"D","m":"D5","v":37},{"d":4,"g":"D","m":"D7","v":14.8},{"d":4,"g":"D","m":"D3","v":14.8},{"d":4,"g":"D","m":"D6","v":14.7},{"d":4,"g":"D","m":"D4","v":13.3},{"d":4,"g":"D","m":"D8","v":12.1},{"d":4,"g":"D","m":"D2","v":11.7},{"d":4,"g":"D","m":"D9","v":10.5},{"d":4,"g":"D","m":"D1","v":10.5},
{"d":5,"g":"W","m":"W5","v":60},{"d":5,"g":"W","m":"W7","v":45.2},{"d":5,"g":"W","m":"W3","v":14.8},{"d":5,"g":"W","m":"W6","v":12.5},{"d":5,"g":"W","m":"W4","v":10.1},{"d":5,"g":"W","m":"W8","v":8.1},{"d":5,"g":"W","m":"W2","v":8},{"d":5,"g":"W","m":"W9","v":5},{"d":5,"g":"W","m":"W1","v":5},
{"d":5,"g":"C","m":"C5","v":38.6},{"d":5,"g":"C","m":"C7","v":15},{"d":5,"g":"C","m":"C3","v":14.6},{"d":5,"g":"C","m":"C6","v":12.7},{"d":5,"g":"C","m":"C4","v":11},{"d":5,"g":"C","m":"C8","v":10.4},{"d":5,"g":"C","m":"C2","v":6.6},{"d":5,"g":"C","m":"C9","v":6.5},
{"d":5,"g":"P","m":"P5","v":17},{"d":5,"g":"P","m":"P7","v":16},{"d":5,"g":"P","m":"P3","v":14.8},{"d":5,"g":"P","m":"P6","v":12.8},{"d":5,"g":"P","m":"P4","v":12.8},{"d":5,"g":"P","m":"P8","v":11.3},{"d":5,"g":"P","m":"P2","v":10.5},{"d":5,"g":"P","m":"P9","v":6.5},{"d":5,"g":"P","m":"P1","v":6.5},
{"d":5,"g":"D","m":"D5","v":27.3},{"d":5,"g":"D","m":"D7","v":22.7},{"d":5,"g":"D","m":"D3","v":18.4},{"d":5,"g":"D","m":"D6","v":14},{"d":5,"g":"D","m":"D4","v":11.7},{"d":5,"g":"D","m":"D8","v":10.9},{"d":5,"g":"D","m":"D2","v":9.3},{"d":5,"g":"D","m":"D9","v":8},{"d":5,"g":"D","m":"D1","v":5},
{"d":6,"g":"W","m":"W5","v":46.7},{"d":6,"g":"W","m":"W7","v":20},{"d":6,"g":"W","m":"W3","v":11.7},{"d":6,"g":"W","m":"W6","v":11.7},{"d":6,"g":"W","m":"W4","v":9.7},{"d":6,"g":"W","m":"W8","v":7.7},{"d":6,"g":"W","m":"W2","v":5},{"d":6,"g":"W","m":"W9","v":4.6},{"d":6,"g":"W","m":"W1","v":3.5},
{"d":6,"g":"C","m":"C5","v":23.9},{"d":6,"g":"C","m":"C7","v":16.9},{"d":6,"g":"C","m":"C3","v":14},{"d":6,"g":"C","m":"C6","v":10.9},{"d":6,"g":"C","m":"C4","v":10.9},{"d":6,"g":"C","m":"C8","v":6.1},{"d":6,"g":"C","m":"C2","v":5.8},{"d":6,"g":"C","m":"C9","v":4.3},
{"d":6,"g":"P","m":"P5","v":17.6},{"d":6,"g":"P","m":"P7","v":17.6},{"d":6,"g":"P","m":"P3","v":13.2},{"d":6,"g":"P","m":"P6","v":11.7},{"d":6,"g":"P","m":"P4","v":10.5},{"d":6,"g":"P","m":"P8","v":9.3},{"d":6,"g":"P","m":"P2","v":5.8},{"d":6,"g":"P","m":"P9","v":5},{"d":6,"g":"P","m":"P1","v":5},
{"d":6,"g":"D","m":"D5","v":32},{"d":6,"g":"D","m":"D7","v":16.5},{"d":6,"g":"D","m":"D3","v":13.8},{"d":6,"g":"D","m":"D6","v":12.5},{"d":6,"g":"D","m":"D4","v":11.3},{"d":6,"g":"D","m":"D8","v":9.3},{"d":6,"g":"D","m":"D2","v":8},{"d":6,"g":"D","m":"D9","v":7},{"d":6,"g":"D","m":"D1","v":6},
{"d":7,"g":"W","m":"W5","v":60},{"d":7,"g":"W","m":"W7","v":18.8},{"d":7,"g":"W","m":"W3","v":15},{"d":7,"g":"W","m":"W6","v":12.4},{"d":7,"g":"W","m":"W4","v":11.7},{"d":7,"g":"W","m":"W8","v":10.1},{"d":7,"g":"W","m":"W2","v":8.1},{"d":7,"g":"W","m":"W9","v":7},{"d":7,"g":"W","m":"W1","v":5.9},
{"d":7,"g":"C","m":"C5","v":19.5},{"d":7,"g":"C","m":"C7","v":19.5},{"d":7,"g":"C","m":"C3","v":14.6},{"d":7,"g":"C","m":"C6","v":14.5},{"d":7,"g":"C","m":"C4","v":11.7},{"d":7,"g":"C","m":"C8","v":10},{"d":7,"g":"C","m":"C2","v":8.5},{"d":7,"g":"C","m":"C9","v":6.4},{"d":7,"g":"C","m":"C1","v":6.3},
{"d":7,"g":"P","m":"P5","v":17.2},{"d":7,"g":"P","m":"P7","v":14},{"d":7,"g":"P","m":"P3","v":14},{"d":7,"g":"P","m":"P6","v":10.9},{"d":7,"g":"P","m":"P4","v":9.3},{"d":7,"g":"P","m":"P8","v":8.1},{"d":7,"g":"P","m":"P2","v":7.8},{"d":7,"g":"P","m":"P9","v":6.5},{"d":7,"g":"P","m":"P1","v":4.3},
{"d":7,"g":"D","m":"D5","v":31.7},{"d":7,"g":"D","m":"D7","v":20},{"d":7,"g":"D","m":"D3","v":12},{"d":7,"g":"D","m":"D6","v":10.9},{"d":7,"g":"D","m":"D4","v":10.9},{"d":7,"g":"D","m":"D8","v":9},{"d":7,"g":"D","m":"D2","v":8.1},{"d":7,"g":"D","m":"D9","v":6.5},{"d":7,"g":"D","m":"D1","v":6.5}]
},
"resolve":{"scale":{"color":"independent","shape":"independent","fill":"independent","stroke":"independent","xOffset":"independent"}},
"spacing":33,
"vconcat":[
{"hconcat":[
{"title":{"text":"a","anchor":"start","fontSize":29,"fontWeight":"bold","color":"#000000","offset":-11},
"resolve":{"scale":{"color":"independent","shape":"independent","fill":"independent","stroke":"independent","xOffset":"independent"}},
"vconcat":[{
"width":445,"height":295,
"title":{"text":"Females - Hidden platform","anchor":"start","frame":"group","fontSize":24,"fontWeight":"bold","color":"#a50f0f","offset":-3,"dx":1},
"encoding":{"x":{"field":"d","type":"ordinal","title":null,"scale":{"paddingInner":0.135,"paddingOuter":0.06},"axis":{"labelExpr":"'Day ' + datum.label"}}},
"layer":[
{"data":{"name":"ba"},"mark":{"type":"bar"},"encoding":{"xOffset":{"field":"g","type":"nominal","scale":{"domain":["W","C","P","D"],"paddingInner":0.1,"paddingOuter":0}},"y":{"field":"y","type":"quantitative","title":"Latency to platform (s)","scale":{"domain":[0,70],"nice":false}},"fill":{"field":"g","type":"nominal","scale":{"domain":["W","C","P","D"],"range":["#d7d7d7","#c6dcf6","#8a91d1","#d8a9a9"]},"legend":null}}},
{"data":{"name":"pa"},"mark":{"type":"point","filled":true,"opacity":1,"size":22,"strokeWidth":0},"encoding":{"xOffset":{"field":"m","type":"nominal","scale":{"domain":["W1","W2","W3","W4","W5","W6","W7","W8","W9","W10","C1","C2","C3","C4","C5","C6","C7","C8","C9","C10","P1","P2","P3","P4","P5","P6","P7","P8","P9","P10","D1","D2","D3","D4","D5","D6","D7","D8","D9","D10"],"paddingInner":0,"paddingOuter":0}},"y":{"field":"v","type":"quantitative","title":"Latency to platform (s)"},"color":{"field":"g","type":"nominal","scale":{"domain":["W","C","P","D"],"range":["#9e9e9e","#86bbf5","#0b0bc4","#a50d0d"]},"legend":null},"shape":{"field":"g","type":"nominal","scale":{"domain":["W","C","P","D"],"range":["circle","square","triangle-up","triangle-down"]},"legend":null}}},
{"data":{"name":"ba"},"mark":{"type":"rule","strokeWidth":1.5},"encoding":{"xOffset":{"field":"g","type":"nominal","scale":{"domain":["W","C","P","D"],"paddingInner":0.1,"paddingOuter":0}},"y":{"field":"lo","type":"quantitative","title":"Latency to platform (s)"},"y2":{"field":"hi"},"stroke":{"field":"g","type":"nominal","scale":{"domain":["W","C","P","D"],"range":["#9e9e9e","#86bbf5","#0b0bc4","#a50d0d"]},"legend":null}}},
{"data":{"name":"ba"},"mark":{"type":"tick","filled":false,"thickness":0.1,"size":7,"strokeWidth":1.5},"encoding":{"xOffset":{"field":"g","type":"nominal","scale":{"domain":["W","C","P","D"],"paddingInner":0.1,"paddingOuter":0}},"y":{"field":"lo","type":"quantitative","title":"Latency to platform (s)"},"stroke":{"field":"g","type":"nominal","legend":null}}},
{"data":{"name":"ba"},"mark":{"type":"tick","filled":false,"thickness":0.1,"size":7,"strokeWidth":1.5},"encoding":{"xOffset":{"field":"g","type":"nominal","scale":{"domain":["W","C","P","D"],"paddingInner":0.1,"paddingOuter":0}},"y":{"field":"hi","type":"quantitative","title":"Latency to platform (s)"},"stroke":{"field":"g","type":"nominal","legend":null}}}
],
"resolve":{"scale":{"xOffset":"independent"}}
}]},
{"title":{"text":"c","anchor":"start","fontSize":29,"fontWeight":"bold","color":"#000000","offset":-11},
"resolve":{"scale":{"color":"independent","shape":"independent","fill":"independent","stroke":"independent","xOffset":"independent"}},
"vconcat":[{
"width":445,"height":295,
"title":{"text":"Females - Reversal learning","anchor":"start","frame":"group","fontSize":24,"fontWeight":"bold","color":"#a50f0f","offset":-3,"dx":1},
"encoding":{"x":{"field":"d","type":"ordinal","title":null,"scale":{"paddingInner":0.127,"paddingOuter":0.053},"axis":{"labelExpr":"'Day ' + datum.label"}}},
"layer":[
{"data":{"name":"bc"},"mark":{"type":"bar"},"encoding":{"xOffset":{"field":"g","type":"nominal","scale":{"domain":["W","C","P","D"],"paddingInner":0.1,"paddingOuter":0}},"y":{"field":"y","type":"quantitative","title":"Latency to platform (s)","scale":{"domain":[0,70],"nice":false}},"fill":{"field":"g","type":"nominal","scale":{"domain":["W","C","P","D"],"range":["#d7d7d7","#c6dcf6","#8a91d1","#d8a9a9"]},"legend":null}}},
{"data":{"name":"pc"},"mark":{"type":"point","filled":true,"opacity":1,"size":22,"strokeWidth":0},"encoding":{"xOffset":{"field":"m","type":"nominal","scale":{"domain":["W1","W2","W3","W4","W5","W6","W7","W8","W9","W10","C1","C2","C3","C4","C5","C6","C7","C8","C9","C10","P1","P2","P3","P4","P5","P6","P7","P8","P9","P10","D1","D2","D3","D4","D5","D6","D7","D8","D9","D10"],"paddingInner":0,"paddingOuter":0}},"y":{"field":"v","type":"quantitative","title":"Latency to platform (s)"},"color":{"field":"g","type":"nominal","scale":{"domain":["W","C","P","D"],"range":["#9e9e9e","#86bbf5","#0b0bc4","#a50d0d"]},"legend":null},"shape":{"field":"g","type":"nominal","scale":{"domain":["W","C","P","D"],"range":["circle","square","triangle-up","triangle-down"]},"legend":null}}},
{"data":{"name":"bc"},"mark":{"type":"rule","strokeWidth":1.5},"encoding":{"xOffset":{"field":"g","type":"nominal","scale":{"domain":["W","C","P","D"],"paddingInner":0.1,"paddingOuter":0}},"y":{"field":"lo","type":"quantitative","title":"Latency to platform (s)"},"y2":{"field":"hi"},"stroke":{"field":"g","type":"nominal","scale":{"domain":["W","C","P","D"],"range":["#9e9e9e","#86bbf5","#0b0bc4","#a50d0d"]},"legend":null}}},
{"data":{"name":"bc"},"mark":{"type":"tick","filled":false,"thickness":0.1,"size":7,"strokeWidth":1.5},"encoding":{"xOffset":{"field":"g","type":"nominal","scale":{"domain":["W","C","P","D"],"paddingInner":0.1,"paddingOuter":0}},"y":{"field":"lo","type":"quantitative","title":"Latency to platform (s)"},"stroke":{"field":"g","type":"nominal","legend":null}}},
{"data":{"name":"bc"},"mark":{"type":"tick","filled":false,"thickness":0.1,"size":7,"strokeWidth":1.5},"encoding":{"xOffset":{"field":"g","type":"nominal","scale":{"domain":["W","C","P","D"],"paddingInner":0.1,"paddingOuter":0}},"y":{"field":"hi","type":"quantitative","title":"Latency to platform (s)"},"stroke":{"field":"g","type":"nominal","legend":null}}}
],
"resolve":{"scale":{"xOffset":"independent"}}
}]},
{"width":14,"height":164,"data":{"name":"lg"},
"encoding":{"y":{"field":"g","type":"nominal","scale":{"type":"band","domain":["W","C","P","D"],"paddingInner":0,"paddingOuter":1,"align":0.68},"axis":null}},
"layer":[
{"mark":{"type":"point","filled":true,"opacity":1,"size":190,"strokeWidth":0},"encoding":{"color":{"field":"g","type":"nominal","scale":{"domain":["W","C","P","D"],"range":["#9e9e9e","#86bbf5","#0b0bc4","#a50d0d"]},"legend":null},"shape":{"field":"g","type":"nominal","scale":{"domain":["W","C","P","D"],"range":["circle","square","triangle-up","triangle-down"]},"legend":null}}},
{"transform":[{"filter":"datum.g == 'W'"}],"mark":{"type":"text","align":"left","baseline":"middle","dx":14,"fontSize":18,"color":"#1a1a1a"},"encoding":{"text":{"field":"t"}}},
{"transform":[{"filter":"datum.g != 'W'"}],"mark":{"type":"text","align":"left","baseline":"middle","dx":14,"fontSize":17,"fontStyle":"italic","color":"#1a1a1a"},"encoding":{"text":{"field":"t"}}}
]}
],"spacing":39,"resolve":{"scale":{"color":"independent","shape":"independent","fill":"independent","stroke":"independent","xOffset":"independent"}}},
{"hconcat":[
{"title":{"text":"b","anchor":"start","fontSize":29,"fontWeight":"bold","color":"#000000","offset":-11},
"resolve":{"scale":{"color":"independent","shape":"independent","fill":"independent","stroke":"independent","xOffset":"independent"}},
"vconcat":[{
"width":445,"height":295,
"title":{"text":"Males - Hidden platform","anchor":"start","frame":"group","fontSize":24,"fontWeight":"bold","color":"#a50f0f","offset":-3,"dx":1},
"encoding":{"x":{"field":"d","type":"ordinal","title":null,"scale":{"paddingInner":0.135,"paddingOuter":0.06},"axis":{"labelExpr":"'Day ' + datum.label"}}},
"layer":[
{"data":{"name":"bb"},"mark":{"type":"bar"},"encoding":{"xOffset":{"field":"g","type":"nominal","scale":{"domain":["W","C","P","D"],"paddingInner":0.1,"paddingOuter":0}},"y":{"field":"y","type":"quantitative","title":"Latency to platform (s)","scale":{"domain":[0,70],"nice":false}},"fill":{"field":"g","type":"nominal","scale":{"domain":["W","C","P","D"],"range":["#d7d7d7","#c6dcf6","#8a91d1","#d8a9a9"]},"legend":null}}},
{"data":{"name":"pb"},"mark":{"type":"point","filled":true,"opacity":1,"size":22,"strokeWidth":0},"encoding":{"xOffset":{"field":"m","type":"nominal","scale":{"domain":["W1","W2","W3","W4","W5","W6","W7","W8","W9","W10","C1","C2","C3","C4","C5","C6","C7","C8","C9","C10","P1","P2","P3","P4","P5","P6","P7","P8","P9","P10","D1","D2","D3","D4","D5","D6","D7","D8","D9","D10"],"paddingInner":0,"paddingOuter":0}},"y":{"field":"v","type":"quantitative","title":"Latency to platform (s)"},"color":{"field":"g","type":"nominal","scale":{"domain":["W","C","P","D"],"range":["#9e9e9e","#86bbf5","#0b0bc4","#a50d0d"]},"legend":null},"shape":{"field":"g","type":"nominal","scale":{"domain":["W","C","P","D"],"range":["circle","square","triangle-up","triangle-down"]},"legend":null}}},
{"data":{"name":"bb"},"mark":{"type":"rule","strokeWidth":1.5},"encoding":{"xOffset":{"field":"g","type":"nominal","scale":{"domain":["W","C","P","D"],"paddingInner":0.1,"paddingOuter":0}},"y":{"field":"lo","type":"quantitative","title":"Latency to platform (s)"},"y2":{"field":"hi"},"stroke":{"field":"g","type":"nominal","scale":{"domain":["W","C","P","D"],"range":["#9e9e9e","#86bbf5","#0b0bc4","#a50d0d"]},"legend":null}}},
{"data":{"name":"bb"},"mark":{"type":"tick","filled":false,"thickness":0.1,"size":7,"strokeWidth":1.5},"encoding":{"xOffset":{"field":"g","type":"nominal","scale":{"domain":["W","C","P","D"],"paddingInner":0.1,"paddingOuter":0}},"y":{"field":"lo","type":"quantitative","title":"Latency to platform (s)"},"stroke":{"field":"g","type":"nominal","legend":null}}},
{"data":{"name":"bb"},"mark":{"type":"tick","filled":false,"thickness":0.1,"size":7,"strokeWidth":1.5},"encoding":{"xOffset":{"field":"g","type":"nominal","scale":{"domain":["W","C","P","D"],"paddingInner":0.1,"paddingOuter":0}},"y":{"field":"hi","type":"quantitative","title":"Latency to platform (s)"},"stroke":{"field":"g","type":"nominal","legend":null}}}
],
"resolve":{"scale":{"xOffset":"independent"}}
}]},
{"title":{"text":"d","anchor":"start","fontSize":29,"fontWeight":"bold","color":"#000000","offset":-11},
"resolve":{"scale":{"color":"independent","shape":"independent","fill":"independent","stroke":"independent","xOffset":"independent"}},
"vconcat":[{
"width":445,"height":295,
"title":{"text":"Males - Reversal learning","anchor":"start","frame":"group","fontSize":24,"fontWeight":"bold","color":"#a50f0f","offset":-3,"dx":1},
"encoding":{"x":{"field":"d","type":"ordinal","title":null,"scale":{"paddingInner":0.127,"paddingOuter":0.053},"axis":{"labelExpr":"'Day ' + datum.label"}}},
"layer":[
{"data":{"name":"bd"},"mark":{"type":"bar"},"encoding":{"xOffset":{"field":"g","type":"nominal","scale":{"domain":["W","C","P","D"],"paddingInner":0.1,"paddingOuter":0}},"y":{"field":"y","type":"quantitative","title":"Latency to platform (s)","scale":{"domain":[0,70],"nice":false}},"fill":{"field":"g","type":"nominal","scale":{"domain":["W","C","P","D"],"range":["#d7d7d7","#c6dcf6","#8a91d1","#d8a9a9"]},"legend":null}}},
{"data":{"name":"pd"},"mark":{"type":"point","filled":true,"opacity":1,"size":22,"strokeWidth":0},"encoding":{"xOffset":{"field":"m","type":"nominal","scale":{"domain":["W1","W2","W3","W4","W5","W6","W7","W8","W9","W10","C1","C2","C3","C4","C5","C6","C7","C8","C9","C10","P1","P2","P3","P4","P5","P6","P7","P8","P9","P10","D1","D2","D3","D4","D5","D6","D7","D8","D9","D10"],"paddingInner":0,"paddingOuter":0}},"y":{"field":"v","type":"quantitative","title":"Latency to platform (s)"},"color":{"field":"g","type":"nominal","scale":{"domain":["W","C","P","D"],"range":["#9e9e9e","#86bbf5","#0b0bc4","#a50d0d"]},"legend":null},"shape":{"field":"g","type":"nominal","scale":{"domain":["W","C","P","D"],"range":["circle","square","triangle-up","triangle-down"]},"legend":null}}},
{"data":{"name":"bd"},"mark":{"type":"rule","strokeWidth":1.5},"encoding":{"xOffset":{"field":"g","type":"nominal","scale":{"domain":["W","C","P","D"],"paddingInner":0.1,"paddingOuter":0}},"y":{"field":"lo","type":"quantitative","title":"Latency to platform (s)"},"y2":{"field":"hi"},"stroke":{"field":"g","type":"nominal","scale":{"domain":["W","C","P","D"],"range":["#9e9e9e","#86bbf5","#0b0bc4","#a50d0d"]},"legend":null}}},
{"data":{"name":"bd"},"mark":{"type":"tick","filled":false,"thickness":0.1,"size":7,"strokeWidth":1.5},"encoding":{"xOffset":{"field":"g","type":"nominal","scale":{"domain":["W","C","P","D"],"paddingInner":0.1,"paddingOuter":0}},"y":{"field":"lo","type":"quantitative","title":"Latency to platform (s)"},"stroke":{"field":"g","type":"nominal","legend":null}}},
{"data":{"name":"bd"},"mark":{"type":"tick","filled":false,"thickness":0.1,"size":7,"strokeWidth":1.5},"encoding":{"xOffset":{"field":"g","type":"nominal","scale":{"domain":["W","C","P","D"],"paddingInner":0.1,"paddingOuter":0}},"y":{"field":"hi","type":"quantitative","title":"Latency to platform (s)"},"stroke":{"field":"g","type":"nominal","legend":null}}}
],
"resolve":{"scale":{"xOffset":"independent"}}
}]},
{"width":14,"height":164,"data":{"name":"lg"},
"encoding":{"y":{"field":"g","type":"nominal","scale":{"type":"band","domain":["W","C","P","D"],"paddingInner":0,"paddingOuter":1,"align":0.68},"axis":null}},
"layer":[
{"mark":{"type":"point","filled":true,"opacity":1,"size":190,"strokeWidth":0},"encoding":{"color":{"field":"g","type":"nominal","scale":{"domain":["W","C","P","D"],"range":["#9e9e9e","#86bbf5","#0b0bc4","#a50d0d"]},"legend":null},"shape":{"field":"g","type":"nominal","scale":{"domain":["W","C","P","D"],"range":["circle","square","triangle-up","triangle-down"]},"legend":null}}},
{"transform":[{"filter":"datum.g == 'W'"}],"mark":{"type":"text","align":"left","baseline":"middle","dx":14,"fontSize":18,"color":"#1a1a1a"},"encoding":{"text":{"field":"t"}}},
{"transform":[{"filter":"datum.g != 'W'"}],"mark":{"type":"text","align":"left","baseline":"middle","dx":14,"fontSize":17,"fontStyle":"italic","color":"#1a1a1a"},"encoding":{"text":{"field":"t"}}}
]}
],"spacing":39,"resolve":{"scale":{"color":"independent","shape":"independent","fill":"independent","stroke":"independent","xOffset":"independent"}}}
]
}
